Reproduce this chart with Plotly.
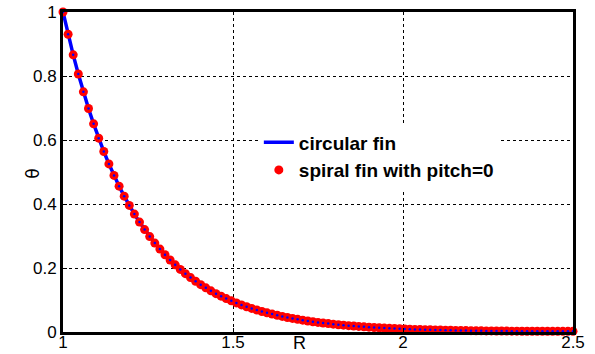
import plotly.graph_objects as go

# Dimensionless radius R (step 0.015 from 1 to 2.5)
R = [round(1 + 0.015 * i, 3) for i in range(101)]

# Temperature excess theta (circular fin)
theta_circular = [
    1.0000, 0.9306, 0.8661, 0.8061, 0.7504, 0.6986, 0.6505, 0.6057, 0.5640, 0.5253,
    0.4893, 0.4557, 0.4245, 0.3955, 0.3685, 0.3434, 0.3200, 0.2982, 0.2779, 0.2590,
    0.2414, 0.2251, 0.2098, 0.1956, 0.1824, 0.1700, 0.1585, 0.1479, 0.1379, 0.1286,
    0.1199, 0.1119, 0.1044, 0.0973, 0.0908, 0.0847, 0.0790, 0.0737, 0.0688, 0.0642,
    0.0599, 0.0559, 0.0522, 0.0487, 0.0454, 0.0424, 0.0396, 0.0369, 0.0345, 0.0322,
    0.0300, 0.0281, 0.0262, 0.0245, 0.0228, 0.0213, 0.0199, 0.0186, 0.0174, 0.0162,
    0.0151, 0.0141, 0.0132, 0.0123, 0.0115, 0.0108, 0.0100, 0.0094, 0.0088, 0.0082,
    0.0078, 0.0073, 0.0069, 0.0064, 0.0060, 0.0057, 0.0053, 0.0050, 0.0047, 0.0044,
    0.0042, 0.0039, 0.0037, 0.0035, 0.0033, 0.0032, 0.0030, 0.0029, 0.0027, 0.0026,
    0.0025, 0.0024, 0.0023, 0.0023, 0.0022, 0.0021, 0.0021, 0.0021, 0.0020, 0.0020,
    0.0020,
]
# Spiral fin with pitch = 0 coincides with the circular fin
theta_spiral = list(theta_circular)

x_ticks = [1, 1.5, 2, 2.5]
x_ticklabels = ["1", "1.5", "2", "2.5"]
y_ticks = [0, 0.2, 0.4, 0.6, 0.8, 1]
y_ticklabels = ["0", "0.2", "0.4", "0.6", "0.8", "1"]

fig = go.Figure()
fig.add_trace(go.Scatter(
    x=R, y=theta_circular, mode="lines", name="circular fin",
    line=dict(color="#0000FF", width=3.5), cliponaxis=False,
))
fig.add_trace(go.Scatter(
    x=R, y=theta_spiral, mode="markers", name="spiral fin with pitch=0",
    marker=dict(color="#FF0000", size=9, line=dict(width=0)), cliponaxis=False,
))
fig.add_trace(go.Scatter(
    x=R, y=theta_spiral, mode="markers", showlegend=False, hoverinfo="skip",
    marker=dict(color="#0000FF", size=2.5, line=dict(width=0)), cliponaxis=False,
))

axis_common = dict(
    showline=True, linecolor="black", linewidth=3, mirror=True,
    ticks="inside", ticklen=4, tickwidth=1, tickcolor="black",
    showgrid=True, gridcolor="black", gridwidth=1, griddash="dot",
    zeroline=False, automargin=False,
    tickfont=dict(family="Liberation Sans, Arial, sans-serif", size=17, color="black"),
)

fig.update_xaxes(
    range=[1, 2.5], tickvals=x_ticks, ticktext=x_ticklabels,
    ticklabelstandoff=-7, **axis_common,
)
fig.update_yaxes(
    range=[0, 1], tickvals=y_ticks, ticktext=y_ticklabels, **axis_common,
)

fig.add_annotation(
    text="R", x=1.697, xref="x", y=0, yref="paper", yshift=1, yanchor="top",
    showarrow=False, font=dict(family="Liberation Sans, Arial, sans-serif", size=18, color="black"),
)
fig.add_annotation(
    text="θ", x=-0.084, xref="paper", y=0.495, yref="paper", textangle=-90,
    showarrow=False, font=dict(family="DejaVu Sans, sans-serif", size=17, color="black"),
)

fig.update_layout(
    width=595, height=354,
    margin=dict(l=63, r=22, t=12, b=22, pad=0),
    paper_bgcolor="white", plot_bgcolor="white",
    showlegend=True,
    legend=dict(
        x=0.384, y=0.652, xanchor="left", yanchor="top",
        bgcolor="white", borderwidth=0,
        font=dict(family="Liberation Sans, Arial, sans-serif", size=19, color="black", weight="bold"),
        tracegroupgap=0, itemwidth=30,
    ),
)

fig.write_html("out.html")
